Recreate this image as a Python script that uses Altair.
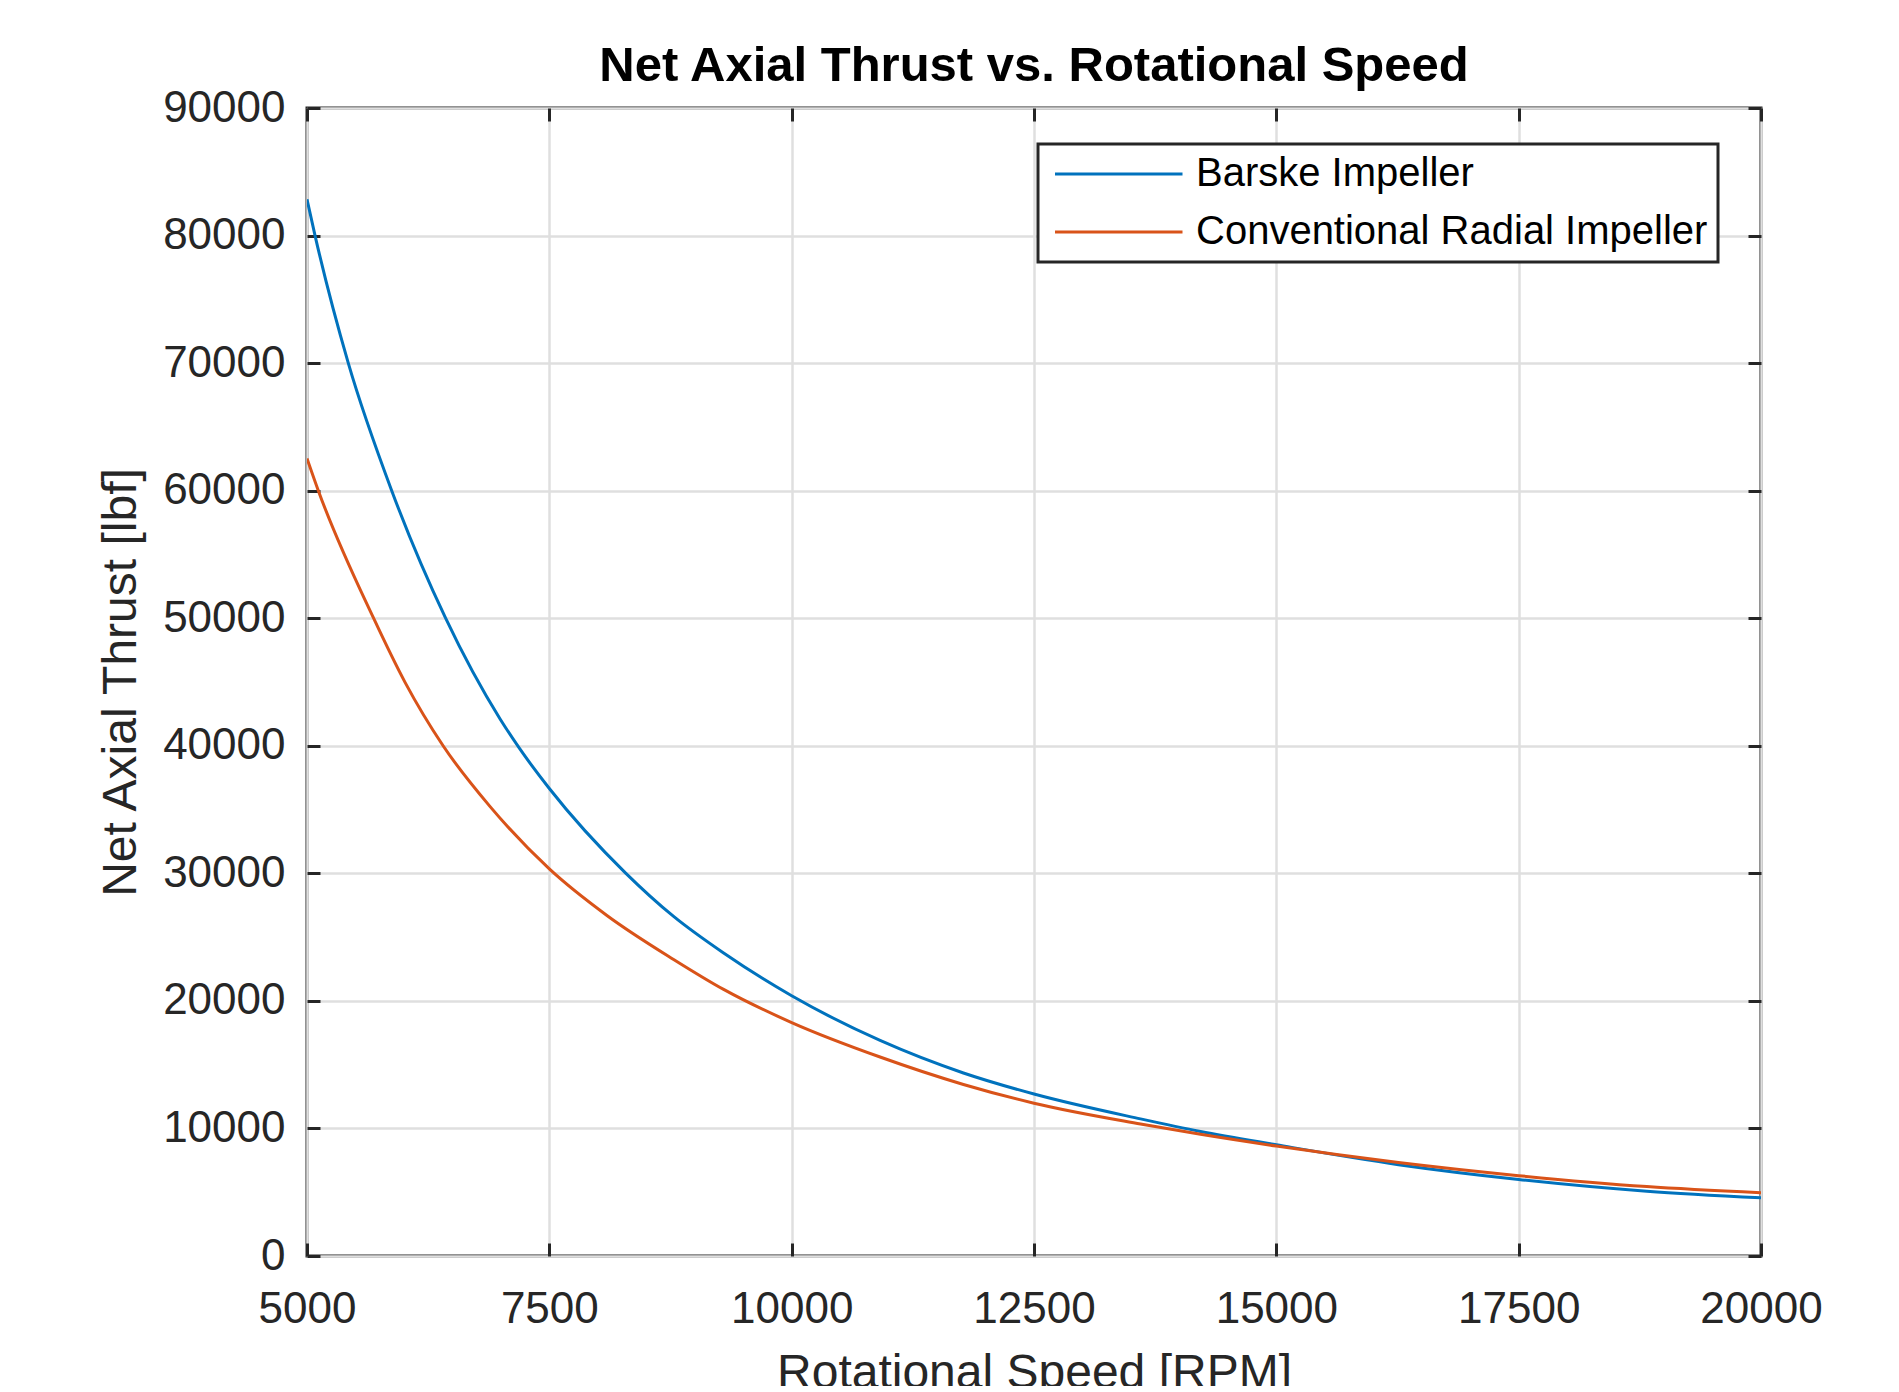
import altair as alt
import pandas as pd

# ---- data ----
barske_rpm = [5000, 5083, 5426, 5874, 6430, 6992, 7187, 7500, 8290, 8782, 9298,
              10000, 10912, 11772, 12500, 13599, 14218, 15000, 16260, 17500, 18822, 20000]
barske_thrust = [82840, 80000, 70000, 60000, 50000, 42100, 39850, 36650, 30000, 26620, 23750,
                 20400, 16900, 14350, 12700, 10750, 9760, 8720, 7160, 6000, 5080, 4560]

conv_rpm = [5000, 5117, 5687, 6013, 6404, 6887, 7500, 8094, 8782, 9298,
            10000, 10912, 11772, 12500, 13599, 14218, 15000, 16260, 17500, 18822, 20000]
conv_thrust = [62530, 60000, 50000, 44950, 40000, 35250, 30350, 26700, 23250, 20900,
               18300, 15600, 13450, 11980, 10350, 9540, 8620, 7330, 6300, 5440, 4950]

series_names = ["Barske Impeller", "Conventional Radial Impeller"]
series_colors = ["#0072BD", "#D95319"]

x_ticks = [5000, 7500, 10000, 12500, 15000, 17500, 20000]
y_ticks = [0, 10000, 20000, 30000, 40000, 50000, 60000, 70000, 80000, 90000]

df = pd.concat([
    pd.DataFrame({"rpm": barske_rpm, "thrust": barske_thrust, "series": series_names[0]}),
    pd.DataFrame({"rpm": conv_rpm, "thrust": conv_thrust, "series": series_names[1]}),
], ignore_index=True)

W, H = 1454, 1148
FONT = "Liberation Sans"
AX = "#262626"
TICK = 13

x_scale = alt.Scale(domain=[5000, 20000], nice=False, zero=False)
y_scale = alt.Scale(domain=[0, 90000], nice=False)

base = alt.Chart(df)

lines = base.mark_line(strokeWidth=3, interpolate="monotone", clip=True).encode(
    x=alt.X("rpm:Q", scale=x_scale,
            axis=alt.Axis(orient="bottom", values=x_ticks, format="d",
                          title="Rotational Speed [RPM]", grid=True, ticks=False, tickSize=0,
                          domain=False, labelPadding=31, labelFontSize=44, labelFlush=False,
                          labelOverlap=False, titleFontSize=48, titleY=93,
                          titleBaseline="top")),
    y=alt.Y("thrust:Q", scale=y_scale,
            axis=alt.Axis(orient="left", values=y_ticks, format="d",
                          title="Net Axial Thrust [lbf]", grid=True, ticks=False, tickSize=0,
                          domain=False, labelPadding=22, labelFontSize=44, labelFlush=False,
                          labelOverlap=False, titleFontSize=48, titleX=-162,
                          titleBaseline="bottom")),
    color=alt.Color("series:N",
                    scale=alt.Scale(domain=series_names, range=series_colors),
                    legend=alt.Legend(orient="none", legendX=731, legendY=36, title=None,
                                      symbolType="M-1,0H6.5", symbolSize=1156,
                                      symbolStrokeWidth=3, symbolOffset=4, labelOffset=104,
                                      labelFontSize=40, labelColor="black", labelFont=FONT,
                                      padding=10, rowPadding=18, strokeColor=AX,
                                      fillColor="white", labelLimit=1000,
                                      direction="vertical")),
)

ticks_in_a = base.mark_line(opacity=0).encode(
    x=alt.X("rpm:Q", scale=x_scale,
            axis=alt.Axis(orient="bottom", values=x_ticks, labels=False, domain=False,
                          grid=False, ticks=True, tickSize=TICK, tickWidth=3,
                          tickColor=AX, offset=-TICK, title=None)),
    y=alt.Y("thrust:Q", scale=y_scale,
            axis=alt.Axis(orient="left", values=y_ticks, labels=False, domain=False,
                          grid=False, ticks=True, tickSize=TICK, tickWidth=3,
                          tickColor=AX, offset=-TICK, title=None)),
    detail="series:N",
)

ticks_in_b = base.mark_line(opacity=0).encode(
    x=alt.X("rpm:Q", scale=x_scale,
            axis=alt.Axis(orient="top", values=x_ticks, labels=False, domain=False,
                          grid=False, ticks=True, tickSize=TICK, tickWidth=3,
                          tickColor=AX, offset=-TICK, title=None)),
    y=alt.Y("thrust:Q", scale=y_scale,
            axis=alt.Axis(orient="right", values=y_ticks, labels=False, domain=False,
                          grid=False, ticks=True, tickSize=TICK, tickWidth=3,
                          tickColor=AX, offset=-TICK, title=None)),
    detail="series:N",
)

chart = alt.layer(lines, ticks_in_a, ticks_in_b).resolve_axis(
    x="independent", y="independent"
).properties(
    width=W, height=H,
    title=alt.TitleParams("Net Axial Thrust vs. Rotational Speed", fontSize=49,
                          fontWeight="bold", font=FONT, color="black", anchor="middle",
                          offset=16, dy=21),
    padding={"left": 299, "top": 100, "right": 130, "bottom": 130},
    autosize=alt.AutoSizeParams(type="none"),
).configure_view(
    stroke=AX, strokeWidth=3
).configure_axis(
    labelFont=FONT, titleFont=FONT, labelColor=AX, titleColor=AX,
    gridColor="#dfdfdf", gridWidth=2.5, gridOpacity=1, titleFontWeight="normal"
).configure_legend(
    strokeWidth=3
)

chart.save("out.html", embed_options={"renderer": "svg", "actions": False})
